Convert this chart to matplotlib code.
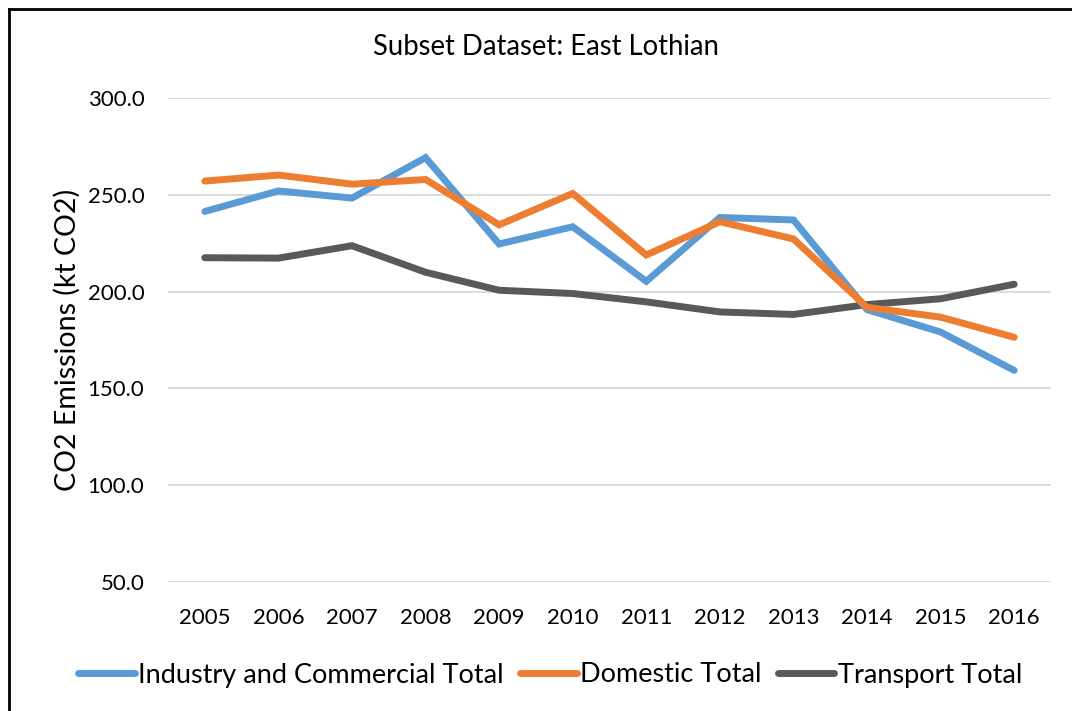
import matplotlib.pyplot as plt
from matplotlib.lines import Line2D

# -----------------------------
# Data
# -----------------------------

years = ["2005", "2006", "2007", "2008", "2009", "2010",
         "2011", "2012", "2013", "2014", "2015", "2016"]

industry = [241.4, 252.0, 248.3, 269.2, 224.6, 233.5,
            205.3, 238.3, 237.0, 190.7, 179.1, 159.3]

domestic = [257.1, 260.2, 255.5, 257.9, 234.5, 250.7,
            218.9, 236.1, 227.2, 191.9, 186.8, 176.4]

transport = [217.5, 217.3, 223.7, 210.0, 200.7, 199.0,
             194.7, 189.5, 188.2, 193.3, 196.3, 203.8]

y_ticks = [50, 100, 150, 200, 250, 300]

# -----------------------------
# Plot
# -----------------------------

plt.rcParams['font.family'] = ['Lato', 'DejaVu Sans']

fig = plt.figure(figsize=(10.72, 7.11), dpi=100)
ax = fig.add_axes([168/1072, 1 - 582/711, (1051-168)/1072, (582-98)/711])

x = range(len(years))
lw = 5
ax.plot(x, industry, color="#5B9BD5", lw=lw, solid_capstyle="round",
        solid_joinstyle="miter", label="Industry and Commercial Total", zorder=3)
ax.plot(x, domestic, color="#ED7D31", lw=lw, solid_capstyle="round",
        solid_joinstyle="miter", label="Domestic Total", zorder=4)
ax.plot(x, transport, color="#595959", lw=lw, solid_capstyle="round",
        solid_joinstyle="miter", label="Transport Total", zorder=2)

ax.set_xlim(-0.5, len(years) - 0.5)
ax.set_ylim(50, 300)
ax.set_xticks(list(x))
ax.set_xticklabels(years)
ax.set_yticks(y_ticks)
ax.set_yticklabels([f"{v:.1f}" for v in y_ticks])

ax.grid(axis="y", color="#D9D9D9", lw=1.3)
ax.set_axisbelow(True)
for s in ax.spines.values():
    s.set_visible(False)
ax.tick_params(length=0, labelsize=16, colors="black")
ax.tick_params(axis="x", pad=18.5)
ax.tick_params(axis="y", pad=17)

ax.set_ylabel("CO2 Emissions (kt CO2)", fontsize=20.5, labelpad=5)
fig.text(546/1072, 1 - 47/711, "Subset Dataset: East Lothian", ha="center",
         va="center", fontsize=19.8)

fig.legend(loc="center", bbox_to_anchor=(0.513, 1 - 675/711), ncol=3,
           frameon=False, fontsize=19.5, handlelength=2.1, handletextpad=0.12,
           columnspacing=0.6)

# border on left and top of chart area
fig.lines.append(Line2D([9/1072, 9/1072], [0, 1 - 9/711],
                        transform=fig.transFigure, color="black", lw=2))
fig.lines.append(Line2D([9/1072, 1], [1 - 9/711, 1 - 9/711],
                        transform=fig.transFigure, color="black", lw=2))

fig.savefig("out.png", dpi=100)
